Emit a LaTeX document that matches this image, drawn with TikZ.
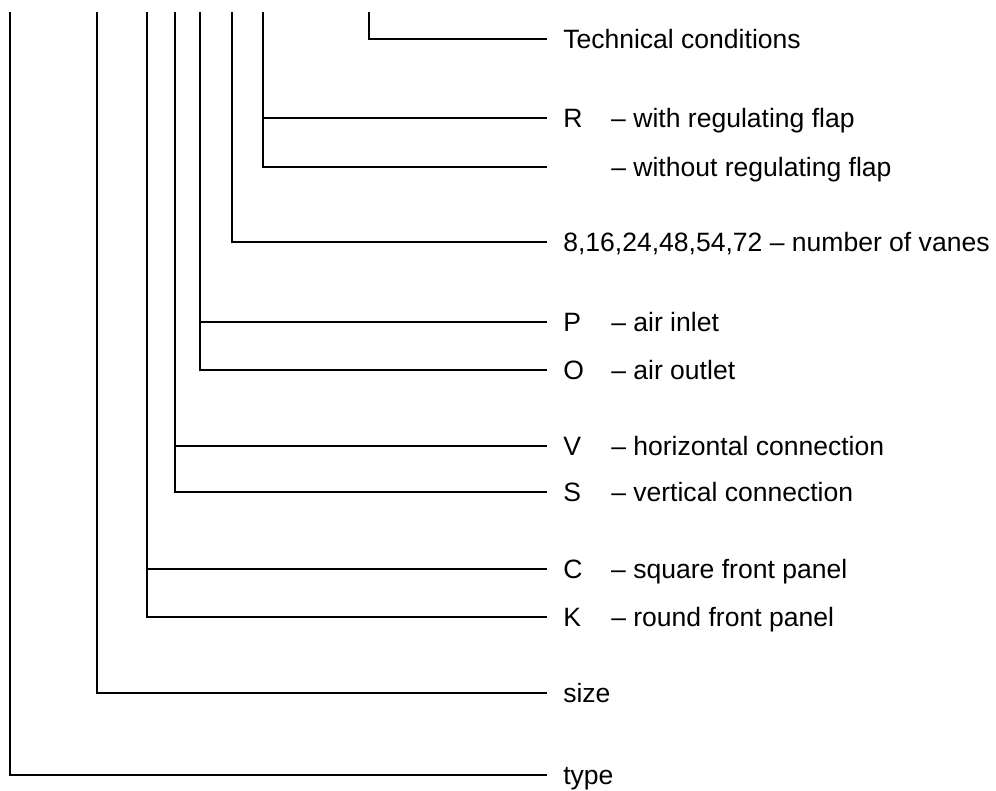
\documentclass[tikz,border=0pt]{standalone}
\usepackage{fontspec}
\setmainfont{Liberation Sans}
\usetikzlibrary{positioning}
\newcommand{\code}[1]{\makebox[36pt][l]{#1}}

\begin{document}
\begin{tikzpicture}[x=0.75pt,y=-0.75pt,
  lbl/.style={anchor=west,font=\fontsize{19.9}{24}\selectfont,inner xsep=12pt,inner ysep=0pt,text height=14.2pt,text depth=0pt},
  lead/.style={line width=1.5pt}]
\useasboundingbox (0,0) rectangle (996,790);
% labels, one per row
\node[lbl] (tc) at (547,39) {Technical conditions};
\node[lbl] (flapR) at (547,118) {\code{R}– with regulating flap};
\node[lbl] (flapN) at (547,167) {\code{}– without regulating flap};
\node[lbl] (vanes) at (547,242) {8,16,24,48,54,72 – number of vanes};
\node[lbl] (inP) at (547,322) {\code{P}– air inlet};
\node[lbl] (outO) at (547,370) {\code{O}– air outlet};
\node[lbl] (conV) at (547,446) {\code{V}– horizontal connection};
\node[lbl] (conS) at (547,492) {\code{S}– vertical connection};
\node[lbl] (panC) at (547,569) {\code{C}– square front panel};
\node[lbl] (panK) at (547,617) {\code{K}– round front panel};
\node[lbl] (size) at (547,693) {size};
\node[lbl] (type) at (547,775) {type};
% tops of the leads
\coordinate (tType) at (10,12);
\coordinate (tSize) at (97,12);
\coordinate (tPan) at (147,12);
\coordinate (tCon) at (175,12);
\coordinate (tAir) at (200,12);
\coordinate (tVanes) at (232,12);
\coordinate (tFlap) at (263,12);
\coordinate (tTc) at (369,12);
% leads
\draw[lead] (tTc) |- (tc.west);
\draw[lead] (tFlap) |- (flapN.west);
\draw[lead] (tFlap |- flapR.west) -- (flapR.west);
\draw[lead] (tVanes) |- (vanes.west);
\draw[lead] (tAir) |- (outO.west);
\draw[lead] (tAir |- inP.west) -- (inP.west);
\draw[lead] (tCon) |- (conS.west);
\draw[lead] (tCon |- conV.west) -- (conV.west);
\draw[lead] (tPan) |- (panK.west);
\draw[lead] (tPan |- panC.west) -- (panC.west);
\draw[lead] (tSize) |- (size.west);
\draw[lead] (tType) |- (type.west);
\end{tikzpicture}
\end{document}
